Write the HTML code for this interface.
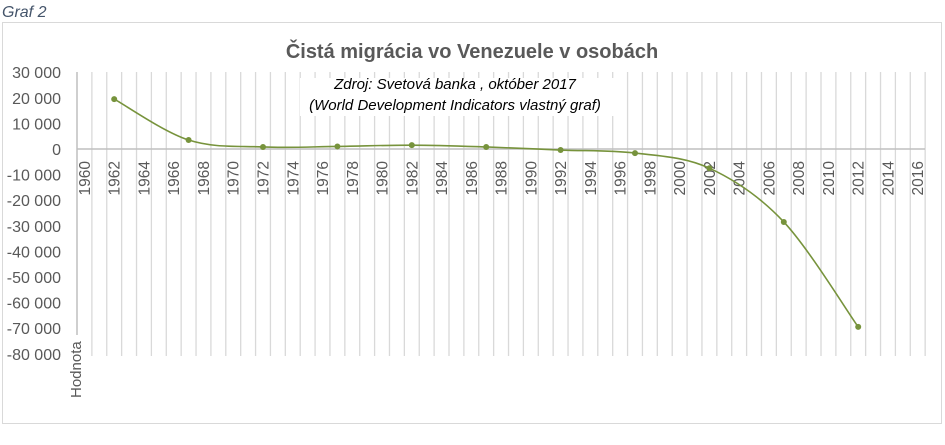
<!DOCTYPE html>
<html><head><meta charset="utf-8"><style>
html,body{margin:0;padding:0;background:#fff;}
svg{display:block;font-family:"Liberation Sans",sans-serif;}
</style></head><body>
<svg id="s" width="945" height="445" viewBox="0 0 945 445">
<text x="2" y="17" font-size="16" font-style="italic" fill="#44546a">Graf 2</text>
<rect x="2.5" y="22.5" width="939" height="401" fill="#fff" stroke="#d9d9d9" stroke-width="1"/>
<g id="grid" stroke="#d9d9d9" stroke-width="1.3"></g>
<line x1="77" y1="149" x2="925" y2="149" stroke="#bfbfbf" stroke-width="1.5"/>
<line x1="77" y1="72" x2="77" y2="335" stroke="#bfbfbf" stroke-width="1.5"/>
<rect x="300" y="78" width="320" height="38" fill="#fff"/>
<g id="ylab" font-size="16" fill="#595959" text-anchor="end"></g>
<g id="xlab" font-size="15.5" fill="#595959"></g>
<text x="472" y="58" font-size="20" font-weight="bold" fill="#595959" text-anchor="middle">Čistá migrácia vo Venezuele v osobách</text>
<text x="455" y="89" font-size="15" font-style="italic" fill="#000" text-anchor="middle">Zdroj: Svetová banka , október 2017</text>
<text x="455" y="110" font-size="15" font-style="italic" fill="#000" text-anchor="middle">(World Development Indicators vlastný graf)</text>
<text transform="translate(81,398) rotate(-90)" font-size="15" fill="#595959">Hodnota</text>
<path id="curve" fill="none" stroke="#77933c" stroke-width="1.6"/>
<g id="pts" fill="#77933c"></g>
</svg>
<script>
var ns="http://www.w3.org/2000/svg";
function el(p,t,a,txt){var e=document.createElementNS(ns,t);for(var k in a)e.setAttribute(k,a[k]);if(txt!=null)e.textContent=txt;document.getElementById(p).appendChild(e);return e;}
var L=77,W=14.88;
for(var i=1;i<=57;i++){var x=L+i*W;el("grid","line",{x1:x,y1:72,x2:x,y2:356});}
for(var v=30000;v>=-80000;v-=10000){var y=149-v/10000*25.6;
 var s=v===0?"0":(v<0?"-":"")+Math.abs(v/1000)+" 000";
 el("ylab","text",{x:61,y:y+6},s);}
for(var yr=1960;yr<=2016;yr+=2){var cx=L+(yr-1960+0.5)*W;
 el("xlab","text",{transform:"translate("+(cx+5.5)+",161) rotate(-90)","text-anchor":"end"},yr);}
var d=[[1962,19500],[1967,3500],[1972,800],[1977,1000],[1982,1500],[1987,800],[1992,-400],[1997,-1600],[2002,-7500],[2007,-28500],[2012,-69500]];
var P=d.map(function(a){return [L+(a[0]-1960+0.5)*W,149-a[1]/10000*25.6];});
var path="M"+P[0][0]+","+P[0][1];
for(var i=0;i<P.length-1;i++){var p0=P[i-1]||P[i],p1=P[i],p2=P[i+1],p3=P[i+2]||p2,t=6;
 path+=" C"+(p1[0]+(p2[0]-p0[0])/t)+","+(p1[1]+(p2[1]-p0[1])/t)+" "+(p2[0]-(p3[0]-p1[0])/t)+","+(p2[1]-(p3[1]-p1[1])/t)+" "+p2[0]+","+p2[1];}
document.getElementById("curve").setAttribute("d",path);
P.forEach(function(p){el("pts","circle",{cx:p[0],cy:p[1],r:3});});
</script>
</body></html>
